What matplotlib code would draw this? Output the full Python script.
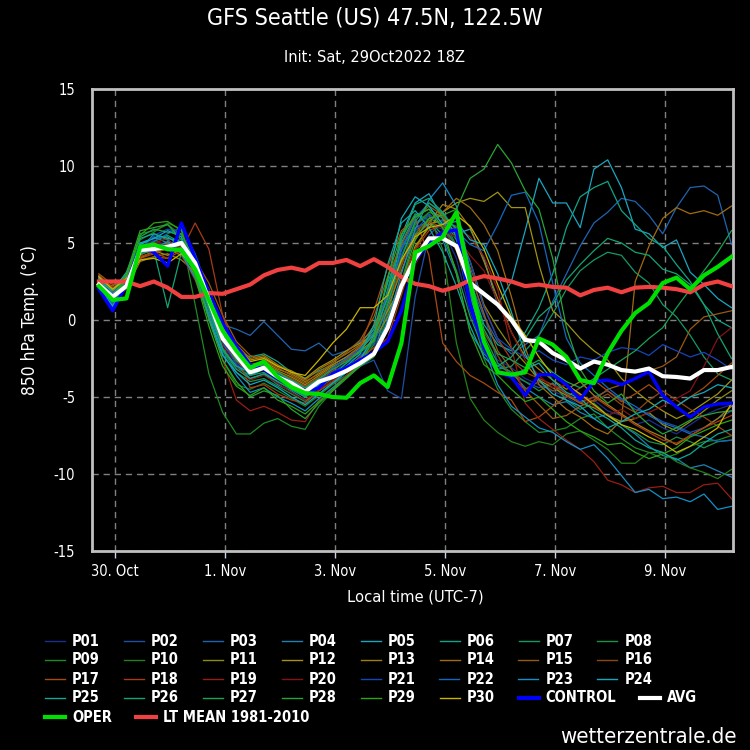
import matplotlib
matplotlib.use("Agg")
import matplotlib.pyplot as plt
import pandas as pd
from matplotlib.lines import Line2D

plt.rcParams['font.family'] = ['DejaVu Sans']
plt.rcParams['font.stretch'] = 'condensed'
plt.rcParams['axes.unicode_minus'] = False

# 6-hourly steps, local time (UTC-7), from 30 Oct 00Z
times = pd.date_range("2022-10-29 17:00", periods=47, freq="6h")

tick_days = ["2022-10-30", "2022-11-01", "2022-11-03", "2022-11-05", "2022-11-07", "2022-11-09"]
tick_labels = ["30. Oct", "1. Nov", "3. Nov", "5. Nov", "7. Nov", "9. Nov"]
y_ticks = [-15, -10, -5, 0, 5, 10, 15]

lt_mean = [2.5, 2.5, 2.5, 2.2, 2.5, 2.1, 1.5, 1.5, 1.75, 1.7,
           2.0, 2.3, 2.9, 3.25, 3.4, 3.2, 3.7, 3.7, 3.9, 3.5,
           3.95, 3.45, 2.8, 2.35, 2.2, 1.9, 2.15, 2.6, 2.85, 2.7,
           2.5, 2.2, 2.3, 2.15, 2.1, 1.6, 1.95, 2.1, 1.8, 2.1,
           2.15, 2.1, 2.0, 1.8, 2.3, 2.5, 2.2]

avg = [2.3, 1.5, 2.2, 4.55, 4.6, 4.75, 5.0, 3.7, 1.3, -1.2,
       -2.3, -3.4, -3.1, -3.7, -4.1, -4.65, -4.0, -3.7, -3.3, -2.8,
       -2.2, -0.5, 2.2, 4.0, 5.3, 5.3, 4.8, 2.4, 1.7, 1.0,
       0.0, -1.3, -1.4, -2.15, -2.6, -3.15, -2.7, -2.9, -3.25, -3.35,
       -3.15, -3.65, -3.7, -3.8, -3.25, -3.25, -3.05]

oper = [2.2, 1.3, 1.4, 4.75, 4.9, 4.6, 4.55, 3.3, 1.3, -0.7,
        -2.0, -3.1, -2.7, -3.7, -4.35, -4.75, -4.8, -5.0, -5.05, -4.1,
        -3.6, -4.35, -1.5, 4.4, 4.8, 5.4, 7.0, 2.4, -1.4, -3.4,
        -3.55, -3.4, -1.2, -1.6, -2.4, -3.9, -4.1, -2.15, -0.7, 0.45,
        1.1, 2.4, 2.75, 2.0, 2.9, 3.45, 4.1]

control = [2.0, 0.6, 2.3, 4.75, 4.4, 3.5, 6.3, 4.0, 1.8, -0.2,
           -1.7, -2.9, -3.2, -3.8, -4.3, -4.75, -4.4, -3.5, -3.1, -2.6,
           -2.1, -1.4, 0.6, 3.9, 5.0, 5.7, 5.85, 1.0, -1.8, -3.4,
           -3.7, -4.9, -3.55, -3.55, -4.2, -5.15, -4.0, -3.9, -4.2, -3.8,
           -3.35, -4.9, -5.65, -6.3, -5.65, -5.45, -5.4]

p01 = [2.3, 1.0, 2.4, 4.6, 5.2, 4.8, 4.6, 3.0, 0.8, -1.5,
       -2.8, -3.3, -3.0, -3.6, -4.0, -4.4, -4.0, -3.6, -3.0, -2.5,
       -1.8, 0.5, 3.8, 5.5, 6.2, 5.9, 4.0, 0.5, -1.8, -2.6,
       -3.1, -3.8, -4.2, -4.6, -5.0, -5.6, -5.2, -5.9, -6.2, -6.8,
       -6.5, -7.0, -7.4, -6.8, -6.2, -5.8, -5.5]
p02 = [2.0, 0.6, 2.2, 4.4, 4.8, 4.9, 5.3, 3.6, 1.2, -0.8,
       -2.2, -3.0, -2.8, -3.4, -3.9, -4.3, -3.8, -3.6, -3.4, -3.0,
       -2.6, -4.6, -5.1, 1.5, 5.5, 6.4, 6.1, 3.0, 0.4, -2.8,
       -3.6, -4.0, -4.4, -4.1, -4.8, -5.3, -5.0, -4.6, -5.2, -5.8,
       -6.1, -6.6, -6.9, -7.3, -7.0, -6.4, -5.9]
p03 = [2.6, 1.5, 2.7, 4.3, 5.0, 4.5, 4.4, 2.8, 0.8, -0.3,
       -0.6, -1.0, -0.1, -1.0, -1.9, -2.0, -1.5, -2.3, -2.0, -1.4,
       -0.6, 1.5, 4.5, 6.3, 6.9, 6.0, 4.8, 2.5, 0.2, -1.4,
       -2.2, -1.6, -1.0, 1.2, 3.0, 4.8, 6.3, 7.0, 7.9, 7.7,
       6.8, 5.6, 7.3, 8.6, 8.7, 8.1, 4.9]
p04 = [2.8, 1.8, 2.9, 4.9, 5.4, 5.0, 5.1, 3.8, 1.5, -1.2,
       -2.9, -3.8, -3.5, -4.2, -4.6, -5.2, -4.8, -4.1, -3.6, -2.9,
       -2.2, 0.8, 4.8, 6.0, 6.4, 5.2, 3.0, -0.8, -2.2, -3.0,
       -3.4, -4.4, -5.0, -5.5, -5.3, -6.0, -6.4, -6.1, -6.8, -7.4,
       -8.2, -8.8, -9.0, -9.6, -9.4, -9.8, -10.2]
p05 = [2.5, 1.2, 2.6, 5.0, 5.3, 5.4, 4.8, 3.2, 1.0, -1.6,
       -2.6, -3.6, -3.2, -3.8, -4.4, -4.9, -4.2, -3.5, -3.1, -2.4,
       -1.5, 1.8, 5.5, 7.6, 8.2, 6.6, 5.6, 5.9, 4.0, 1.0,
       2.5, 5.8, 9.2, 7.6, 7.6, 6.0, 9.8, 10.4, 8.6, 5.9,
       5.6, 4.7, 5.2, 3.1, 2.3, 1.4, 0.8]
p06 = [2.4, 1.4, 2.5, 4.5, 5.6, 5.2, 4.3, 3.4, 1.6, -0.9,
       -2.0, -2.4, -2.2, -2.7, -3.4, -3.8, -3.3, -2.9, -2.4, -1.8,
       -0.6, 2.4, 5.0, 6.8, 7.2, 6.6, 5.2, 2.4, -0.3, -1.6,
       -2.0, -0.8, 0.8, 3.0, 6.0, 8.0, 8.6, 9.0, 7.1, 6.2,
       5.3, 4.8, 3.6, 2.5, 1.0, 0.0, -0.5]
p07 = [2.2, 1.6, 2.8, 4.7, 5.1, 5.5, 5.0, 3.5, 0.9, -1.8,
       -3.1, -3.6, -3.4, -4.0, -4.5, -5.0, -4.4, -3.8, -3.2, -2.6,
       -1.2, 2.0, 5.3, 6.9, 6.5, 5.5, 3.2, 0.2, -2.0, -3.2,
       -3.0, -2.0, -1.0, 0.4, 2.0, 3.2, 3.9, 4.4, 4.2, 3.1,
       2.4, 1.0, 0.2, -1.0, -2.4, -3.5, -3.9]
p08 = [2.6, 1.3, 2.3, 4.3, 4.8, 4.9, 4.7, 3.0, 0.6, -2.0,
       -3.4, -4.0, -3.8, -4.3, -4.8, -5.3, -4.6, -4.0, -3.4, -2.8,
       -2.0, -0.5, 2.5, 5.6, 6.6, 6.2, 4.8, 1.5, -1.0, -2.8,
       -3.4, -4.0, -4.6, -4.1, -5.2, -5.8, -5.4, -6.2, -6.8, -7.3,
       -7.9, -8.1, -7.6, -7.9, -8.3, -7.9, -7.8]
p09 = [2.4, 1.1, 2.5, 5.6, 5.8, 6.2, 5.5, 1.0, -3.5, -6.0,
       -7.4, -7.4, -6.7, -6.4, -6.9, -7.1, -5.6, -4.6, -3.6, -2.8,
       -1.6, 1.2, 4.2, 6.2, 7.0, 6.7, 4.8, 1.0, -2.5, -4.5,
       -5.8, -6.6, -7.3, -7.2, -7.0, -6.4, -6.1, -7.0, -7.7, -8.3,
       -8.6, -9.0, -8.7, -8.2, -7.9, -7.8, -7.5]
p10 = [2.1, 1.7, 3.0, 5.2, 5.7, 6.3, 5.9, 3.2, 0.3, -2.6,
       -4.2, -4.5, -4.1, -4.6, -5.1, -5.6, -4.9, -4.2, -3.6, -3.0,
       -2.3, 0.4, 3.6, 6.2, 6.8, 4.6, -1.5, -5.1, -6.5, -7.3,
       -7.9, -8.2, -7.9, -8.1, -7.4, -7.2, -7.8, -8.4, -9.3, -9.3,
       -8.6, -8.6, -9.2, -9.6, -9.9, -10.3, -9.7]
p11 = [2.9, 2.0, 2.6, 4.1, 4.4, 4.6, 4.2, 2.9, 1.2, -1.0,
       -2.4, -3.0, -2.8, -3.3, -3.7, -4.2, -3.6, -3.0, -2.6, -2.0,
       -1.3, 0.2, 2.6, 4.6, 6.2, 6.5, 6.0, 3.8, 1.0, -0.5,
       -1.8, -2.8, -3.9, -4.4, -4.9, -5.4, -5.7, -6.2, -6.6, -6.4,
       -6.0, -6.8, -7.2, -6.6, -5.9, -5.2, -4.6]
p12 = [2.7, 1.9, 2.8, 4.0, 4.5, 4.2, 4.6, 3.5, 1.8, -0.4,
       -1.8, -2.6, -2.4, -3.0, -3.3, -3.8, -3.1, -2.6, -2.0, -1.5,
       -1.0, 0.6, 2.2, 4.8, 6.0, 7.0, 7.6, 7.9, 7.7, 8.3,
       7.3, 7.3, 3.6, 0.6, -0.2, -1.2, -2.0, -2.6, -3.8, -4.6,
       -5.3, -5.9, -6.4, -6.0, -5.4, -4.8, -3.9]
p13 = [2.4, 1.5, 2.1, 3.8, 4.1, 4.3, 3.9, 3.1, 1.5, -0.5,
       -2.0, -2.9, -2.7, -3.2, -3.5, -4.0, -3.5, -2.9, -2.4, -1.7,
       -0.8, 0.8, 3.2, 5.5, 6.3, 7.5, 7.2, 6.0, 3.8, 1.4,
       -0.8, -2.4, -3.2, -3.9, -4.5, -4.0, -4.9, -5.5, -6.1, -6.7,
       -7.2, -7.6, -8.1, -7.5, -7.0, -6.4, -5.6]
p14 = [2.6, 2.2, 2.9, 4.2, 4.7, 5.0, 4.4, 3.7, 2.0, -0.2,
       -1.6, -2.5, -2.3, -2.9, -3.4, -3.9, -3.2, -2.7, -2.2, -1.6,
       -0.4, 1.6, 3.8, 5.2, 6.6, 7.0, 7.9, 7.3, 6.2, 4.5,
       1.5, -1.8, -4.2, -5.0, -5.8, -6.3, -7.0, -7.4, -6.5, 2.5,
       4.8, 6.6, 7.3, 6.9, 7.1, 6.8, 7.4]
p15 = [3.0, 2.3, 2.5, 3.9, 4.1, 4.0, 4.8, 3.9, 2.4, 0.3,
       -1.4, -2.3, -2.6, -3.1, -3.6, -4.1, -3.4, -2.8, -2.1, -1.3,
       0.2, 2.8, 4.9, 6.6, 7.4, 6.8, 5.4, 3.0, 0.4, -2.0,
       -3.2, -4.6, -5.5, -6.4, -6.2, -5.6, -5.2, -4.5, -4.2, -3.8,
       -3.3, -3.0, -2.4, -0.6, 0.2, 0.4, 0.6]
p16 = [2.5, 1.4, 2.4, 4.4, 4.9, 4.5, 4.9, 3.3, 1.1, -1.3,
       -2.7, -3.3, -3.0, -3.7, -4.2, -4.6, -3.9, -3.3, -2.6, -1.9,
       -1.0, 1.0, 3.5, 5.8, 6.4, 6.0, 4.5, 1.8, -0.8, -2.3,
       -3.8, -4.5, -4.0, -4.6, -4.2, -4.9, -5.3, -4.8, -5.5, -6.0,
       -5.2, -4.6, -5.2, -5.8, -6.3, -6.9, -7.5]
p17 = [2.9, 2.1, 2.7, 4.0, 4.3, 4.7, 4.5, 3.6, 1.7, -0.7,
       -2.1, -3.0, -2.8, -3.4, -3.8, -4.3, -3.7, -3.1, -2.5, -1.7,
       0.6, 3.4, 5.8, 6.6, 4.2, -1.5, -2.7, -3.6, -4.1, -4.7,
       -5.2, -6.6, -6.3, -5.6, -5.0, -4.4, -3.9, -4.6, -5.3, -4.8,
       -4.2, -4.9, -5.6, -5.0, -4.4, -3.6, -2.8]
p18 = [2.7, 1.8, 2.2, 4.1, 4.4, 4.0, 4.5, 6.3, 4.6, 0.3,
       -2.2, -4.4, -4.2, -4.8, -5.2, -5.4, -4.6, -4.0, -3.2, -2.4,
       -1.8, -1.2, 1.6, 4.6, 5.8, 6.2, 5.6, 3.4, 0.9, -1.2,
       -2.6, -3.4, -3.8, -4.2, -4.8, -5.4, -5.0, -5.6, -6.2, -6.8,
       -7.3, -7.8, -8.0, -7.5, -7.0, -6.6, -6.2]
p19 = [2.3, 1.2, 2.0, 4.6, 5.0, 5.3, 4.2, 2.6, 0.2, -2.6,
       -5.2, -5.9, -5.6, -6.0, -6.5, -6.6, -5.2, -4.4, -3.6, -2.8,
       -2.0, -0.2, 2.6, 4.6, 5.2, 5.6, 6.0, 5.4, 4.1, 2.0,
       -1.8, -5.4, -6.4, -7.1, -7.8, -8.4, -9.2, -10.4, -10.7, -11.2,
       -10.9, -10.8, -11.2, -11.2, -10.7, -10.6, -11.6]
p20 = [2.6, 1.6, 2.6, 4.8, 5.1, 4.8, 5.0, 3.3, 0.9, -1.6,
       -3.1, -3.9, -3.6, -4.1, -4.7, -5.2, -4.5, -3.9, -3.3, -2.7,
       -2.0, -1.2, 0.6, 3.6, 5.2, 5.8, 5.4, 4.2, 3.2, 1.2,
       -0.8, -2.6, -3.6, -4.4, -4.2, -4.9, -5.6, -6.2, -5.8, -6.4,
       -6.0, -5.6, -5.1, -4.6, -3.0, -1.2, -0.5]
p21 = [2.1, 0.8, 2.2, 4.5, 5.5, 5.9, 5.6, 3.9, 1.4, -1.4,
       -2.9, -3.4, -3.1, -3.7, -4.3, -4.6, -4.0, -3.4, -2.8, -2.3,
       -1.5, 0.9, 4.2, 5.8, 6.8, 6.4, 5.6, 3.8, 0.8, -1.2,
       -1.9, -2.4, -2.0, -2.6, -2.9, -2.4, -2.6, -2.1, -1.8, -1.9,
       -2.3, -1.6, -2.0, -2.4, -2.1, -2.6, -3.2]
p22 = [2.4, 1.0, 2.4, 4.6, 5.1, 5.6, 6.0, 4.3, 1.8, -0.9,
       -2.5, -3.2, -2.9, -3.5, -3.9, -4.4, -3.9, -3.1, -2.5, -1.9,
       -0.8, 1.7, 4.6, 6.6, 7.6, 7.0, 5.8, 4.9, 4.5, 6.2,
       8.1, 8.3, 6.3, 2.4, -1.2, -2.8, -3.6, -4.4, -5.1, -5.6,
       -6.2, -6.7, -7.0, -7.4, -7.6, -7.9, -7.8]
p23 = [2.8, 1.7, 2.6, 4.4, 4.6, 5.1, 4.3, 2.7, 0.4, -2.2,
       -3.6, -4.7, -4.4, -5.0, -5.4, -5.9, -5.1, -4.4, -3.7, -3.0,
       -2.2, 0.0, 3.0, 5.9, 7.8, 8.9, 7.4, 3.2, -1.8, -4.2,
       -5.6, -6.3, -7.0, -7.3, -7.9, -8.4, -8.1, -9.0, -10.1, -11.2,
       -11.0, -11.6, -11.5, -11.8, -11.3, -12.3, -12.1]
p24 = [2.2, 0.9, 2.3, 4.9, 5.3, 5.8, 5.4, 3.1, 0.1, -2.3,
       -3.4, -4.2, -3.9, -4.4, -5.0, -5.5, -4.8, -4.1, -3.4, -2.6,
       -1.0, 2.6, 6.6, 8.0, 7.4, 6.2, 6.4, 5.2, 4.9, 3.0,
       0.5, -2.2, -3.9, -4.8, -5.2, -5.6, -6.4, -7.0, -6.6, -6.1,
       -5.8, -5.2, -5.6, -5.0, -4.7, -4.2, -4.4]
p25 = [2.5, 1.9, 3.1, 5.3, 5.6, 5.3, 5.1, 3.4, 1.0, -1.9,
       -3.0, -3.4, -3.1, -3.6, -4.1, -4.7, -4.1, -3.6, -3.0, -2.2,
       -0.3, 3.6, 6.3, 7.1, 6.0, 4.4, 2.2, -0.4, -2.4, -3.3,
       -3.6, -3.2, -2.8, -3.9, -4.7, -5.1, -5.9, -6.4, -7.0, -7.8,
       -8.3, -8.6, -9.1, -8.7, -8.0, -7.4, -7.1]
p26 = [2.7, 1.5, 2.4, 4.3, 4.5, 0.8, 4.4, 3.2, 0.8, -1.9,
       -3.2, -3.8, -3.5, -4.0, -4.5, -5.0, -4.3, -3.6, -2.8, -2.0,
       -0.9, 1.4, 5.2, 7.5, 7.9, 7.0, 5.4, 1.6, -1.6, -3.0,
       -2.4, -1.2, 0.2, 1.0, 2.6, 3.6, 4.5, 5.3, 5.0, 4.4,
       4.2, 3.3, 3.0, 2.3, 1.0, -0.9, -2.5]
p27 = [2.3, 1.2, 2.9, 5.4, 5.9, 5.7, 5.6, 3.8, 1.2, -1.1,
       -2.6, -3.2, -2.9, -3.4, -3.9, -4.4, -3.8, -3.2, -2.7, -2.1,
       -1.4, 1.0, 4.0, 6.4, 7.6, 6.9, 5.9, 2.8, -0.6, -2.2,
       -2.6, -3.1, -2.6, -3.4, -4.0, -4.4, -3.8, -3.2, -2.6, -2.0,
       -1.2, -0.5, 0.8, 2.0, 3.2, 4.4, 5.8]
p28 = [2.6, 1.4, 3.0, 5.8, 6.0, 6.2, 5.2, 3.0, 0.0, -2.6,
       -4.0, -5.0, -4.6, -4.9, -5.8, -6.4, -5.4, -4.6, -3.8, -3.0,
       -2.4, -0.4, 2.4, 5.2, 6.6, 6.8, 7.2, 9.2, 9.8, 11.4,
       10.2, 8.4, 7.2, 4.0, -0.5, -3.2, -4.6, -5.4, -4.8, -6.0,
       -6.8, -7.4, -7.0, -6.5, -6.2, -6.0, -5.9]
p29 = [2.0, 1.3, 2.7, 5.5, 6.3, 6.4, 5.8, 2.8, -0.4, -3.0,
       -4.3, -4.9, -4.4, -5.2, -5.6, -6.1, -5.3, -4.5, -3.7, -2.9,
       -1.2, 2.8, 5.6, 6.7, 7.2, 6.0, 3.0, -0.8, -2.9, -3.6,
       -4.5, -5.3, -5.0, -5.8, -6.6, -7.2, -7.6, -8.1, -8.0, -8.6,
       -9.0, -8.7, -8.3, -7.6, -7.2, -6.8, -6.5]
p30 = [2.8, 2.0, 2.7, 3.9, 4.0, 3.7, 4.3, 3.4, 1.9, -0.3,
       -1.9, -2.7, -2.5, -3.0, -3.4, -3.6, -2.6, -1.5, -0.6, 0.8,
       0.8, 1.6, 3.9, 5.4, 6.0, 6.2, 6.8, 6.1, 4.6, 2.3,
       0.2, -1.0, -2.4, -3.6, -4.2, -4.8, -5.5, -6.2, -6.8, -7.1,
       -7.6, -8.0, -8.6, -8.2, -7.6, -7.0, -5.4]

members = [p01, p02, p03, p04, p05, p06, p07, p08, p09, p10,
           p11, p12, p13, p14, p15, p16, p17, p18, p19, p20,
           p21, p22, p23, p24, p25, p26, p27, p28, p29, p30]
member_names = ["P%02d" % (k + 1) for k in range(30)]
member_colors = ['#1c2e8e', '#1f4ea6', '#2064b0', '#1f82b4', '#1aa6c0',
                 '#12a488', '#149a64', '#1a9048', '#1e8a24', '#248018',
                 '#8c8c10', '#a09410', '#a07e10', '#a06c10', '#985a12',
                 '#8c4814', '#a84a10', '#a83a14', '#981e14', '#841414',
                 '#1446b8', '#1468c0', '#1490c8', '#10aabc', '#10a898',
                 '#12a474', '#18a454', '#28a434', '#2ca414', '#c8b400']

W, H = 750, 750
fig = plt.figure(figsize=(7.5, 7.5), dpi=100, facecolor='black')
ax = fig.add_axes([92 / W, 1 - 551 / H, 641 / W, 462 / H])
ax.set_facecolor('black')

for vals, col in zip(members, member_colors):
    ax.plot(times, vals, color=col, lw=0.9, zorder=2)
ax.plot(times, control, color='#0000ff', lw=2.4, zorder=3)
ax.plot(times, lt_mean, color='#f04040', lw=3.0, zorder=4)
ax.plot(times, avg, color='white', lw=3.0, zorder=5)
ax.plot(times, oper, color='#00e000', lw=3.0, zorder=6)

ax.set_ylim(-15, 15)
ax.set_yticks(y_ticks)
ax.set_xlim(pd.Timestamp("2022-10-29 14:00"), pd.Timestamp("2022-11-10 05:40"))
ax.set_xticks(pd.to_datetime(tick_days))
ax.set_xticklabels(tick_labels)
ax.grid(True, color='#808080', lw=1.0, linestyle=(0, (4.5, 3.5)))
ax.set_axisbelow(True)
for sp in ax.spines.values():
    sp.set_color('#c0c0c0')
    sp.set_linewidth(2)
ax.tick_params(axis='x', colors='#c8d4e8', labelcolor='white', length=5, width=1,
               labelsize=10.5, pad=4)
ax.tick_params(axis='y', length=0, labelcolor='white', labelsize=10.5, pad=12)

renderer = fig.canvas.get_renderer()


def fit(t, width_px):
    # shrink a text so that it spans about the same width as in the original
    w = t.get_window_extent(renderer=renderer).width
    t.set_fontsize(t.get_fontsize() * width_px / w)


fit(fig.text(375 / W, 1 - 18 / H, "GFS Seattle (US) 47.5N, 122.5W", color='white',
             fontsize=18, ha='center', va='center'), 336)
fit(fig.text(374 / W, 1 - 57 / H, "Init: Sat, 29Oct2022 18Z", color='white',
             fontsize=12, ha='center', va='center'), 180)
fit(fig.text(415 / W, 1 - 597 / H, "Local time (UTC-7)", color='white',
             fontsize=12, ha='center', va='center'), 136)
t = fig.text(30 / W, 1 - 320 / H, "850 hPa Temp. (\u00b0C)", color='white',
             fontsize=12, ha='center', va='center', rotation=90)
t.set_fontsize(12 * 150 / t.get_window_extent(renderer=renderer).height)
fit(fig.text(737 / W, 1 - 737 / H, "wetterzentrale.de", color='white',
             fontsize=18, ha='right', va='center'), 177)

# legend, laid out row by row like the original
entries = [(n, c, 1.0) for n, c in zip(member_names, member_colors)]
entries += [("CONTROL", '#0000ff', 3.0), ("AVG", 'white', 3.0),
            ("OPER", '#00e000', 3.0), ("LT MEAN 1981-2010", '#f04040', 3.0)]
probe = fig.text(0, 0, "P01", fontsize=12, fontweight='bold')
leg_size = 12 * 28 / probe.get_window_extent(renderer=renderer).width
probe.remove()
for r in range(5):
    y = 1 - (641 + 19 * r) / H
    x = 45
    for name, col, lw in entries[r * 8:(r + 1) * 8]:
        fig.add_artist(Line2D([x / W, (x + 20) / W], [y, y], transform=fig.transFigure,
                              color=col, lw=lw))
        t = fig.text((x + 27) / W, y, name, color='white', fontsize=leg_size,
                     fontweight='bold', ha='left', va='center')
        x = t.get_window_extent(renderer=renderer).x1 + 24

fig.savefig("out.png", dpi=100, facecolor='black')
